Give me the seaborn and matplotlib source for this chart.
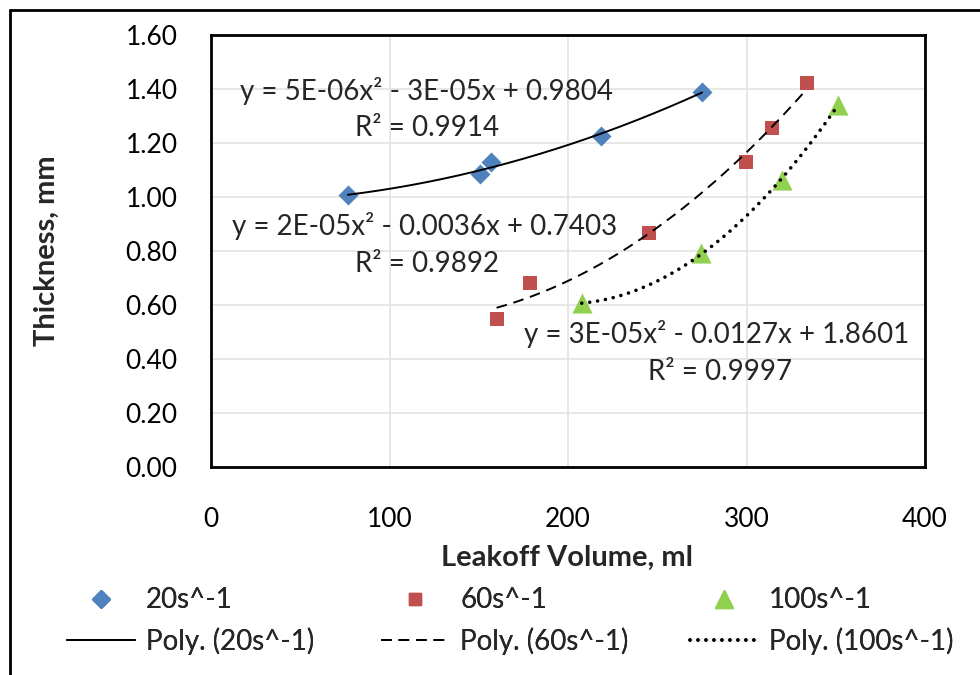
import numpy as np
import pandas as pd
import matplotlib
matplotlib.use("Agg")
import matplotlib.pyplot as plt
from matplotlib.lines import Line2D
import seaborn as sns

# Measured leakoff volume (ml) and filter-cake thickness (mm) per shear rate
vol_20 = [76.7, 150.5, 156.9, 218.6, 275.1]
thk_20 = [1.007, 1.084, 1.131, 1.226, 1.390]
vol_60 = [160.0, 178.7, 245.5, 299.9, 314.5, 333.7]
thk_60 = [0.548, 0.683, 0.868, 1.131, 1.257, 1.423]
vol_100 = [207.7, 274.5, 319.7, 351.1]
thk_100 = [0.606, 0.791, 1.063, 1.341]

series_names = ["20s^-1", "60s^-1", "100s^-1"]
fit_equations = [
    "y = 5E-06x\u00b2 - 3E-05x + 0.9804",
    "y = 2E-05x\u00b2 - 0.0036x + 0.7403",
    "y = 3E-05x\u00b2 - 0.0127x + 1.8601",
]
fit_r2 = ["R\u00b2 = 0.9914", "R\u00b2 = 0.9892", "R\u00b2 = 0.9997"]
x_ticks = [0, 100, 200, 300, 400]
y_ticks = [0.0, 0.2, 0.4, 0.6, 0.8, 1.0, 1.2, 1.4, 1.6]

df = pd.concat([
    pd.DataFrame({"vol": vol_20, "thk": thk_20, "rate": series_names[0]}),
    pd.DataFrame({"vol": vol_60, "thk": thk_60, "rate": series_names[1]}),
    pd.DataFrame({"vol": vol_100, "thk": thk_100, "rate": series_names[2]}),
], ignore_index=True)

colors = {"20s^-1": "#4F81BD", "60s^-1": "#C0504D", "100s^-1": "#92D050"}
markers = {"20s^-1": "D", "60s^-1": "s", "100s^-1": "^"}
msizes = {"20s^-1": 10.2, "60s^-1": 10.5, "100s^-1": 14.5}
line_styles = {
    "20s^-1": dict(linestyle="-", linewidth=1.4),
    "60s^-1": dict(linestyle=(0, (5.5, 3.5)), linewidth=1.4),
    "100s^-1": dict(linestyle=(0, (0.01, 2.2)), linewidth=2.6, dash_capstyle="round"),
}

sns.set_theme(style="white")
plt.rcParams["font.family"] = ["Lato", "DejaVu Sans"]

fig = plt.figure(figsize=(9.8, 6.75), dpi=100)
ax = fig.add_axes([211 / 980, 1 - 467 / 675, 714 / 980, 432 / 675])

# second-order polynomial trendlines fitted over each series' range
for name in series_names:
    sub = df[df["rate"] == name]
    coef = np.polyfit(sub["vol"], sub["thk"], 2)
    xs = np.linspace(sub["vol"].min(), sub["vol"].max(), 200)
    ax.plot(xs, np.polyval(coef, xs), color="black", zorder=3, **line_styles[name])

for name in series_names:
    sub = df[df["rate"] == name]
    sns.scatterplot(data=sub, x="vol", y="thk", color=colors[name], marker=markers[name],
                    s=msizes[name] ** 2, linewidth=0, ax=ax, zorder=2, legend=False)

ax.set_xlim(0, 400)
ax.set_ylim(0, 1.6)
ax.set_xticks(x_ticks)
ax.set_yticks(y_ticks)
ax.set_yticklabels([f"{v:.2f}" for v in y_ticks])
ax.tick_params(axis="both", length=0, labelsize=19, colors="black")
ax.tick_params(axis="x", pad=29)
ax.tick_params(axis="y", pad=24)
ax.grid(True, color="#e3e3e3", linewidth=1.2)
ax.set_axisbelow(True)
for sp in ax.spines.values():
    sp.set_visible(True)
    sp.set_color("black")
    sp.set_linewidth(2)

ax.set_xlabel("Leakoff Volume, ml", fontsize=21, fontweight="bold")
ax.set_ylabel("Thickness, mm", fontsize=21, fontweight="bold")
ax.xaxis.set_label_coords(0.499, -0.18)
ax.yaxis.set_label_coords(-0.212, 0.5)

# fitted-equation annotations (equation line, then R² line)
eq_pos = [((426, 91), (427, 128)), ((425, 226), (427, 264)), ((717, 334), (720, 372))]
for ((ex, ey), (rx, ry)), eq, r2 in zip(eq_pos, fit_equations, fit_r2):
    ax.annotate(eq, xy=(ex / 980, 1 - ey / 675), xycoords="figure fraction",
                ha="center", va="center", fontsize=20)
    ax.annotate(r2, xy=(rx / 980, 1 - ry / 675), xycoords="figure fraction",
                ha="center", va="center", fontsize=20)

# legend: one block per shear rate, marker entry above trendline entry
legend_x = [67, 381, 690]
for name, lx in zip(series_names, legend_x):
    handles = [
        Line2D([], [], linestyle="none", marker=markers[name],
               markersize=msizes[name] * (0.85 if markers[name] != "s" else 0.8),
               color=colors[name]),
        Line2D([], [], color="black", **line_styles[name]),
    ]
    leg = fig.legend(handles, [name, f"Poly. ({name})"], loc="center left",
                     bbox_to_anchor=(lx / 980, 1 - 621 / 675), frameon=False, fontsize=20,
                     handlelength=2.45, handletextpad=0.4, labelspacing=0.5,
                     borderpad=0, borderaxespad=0)
    fig.add_artist(leg)

# outer frame
fig.add_artist(Line2D([10 / 980, 10 / 980], [0, 1 - 10 / 675], color="black", linewidth=2,
                      transform=fig.transFigure))
fig.add_artist(Line2D([10 / 980, 1], [1 - 10 / 675, 1 - 10 / 675], color="black", linewidth=2,
                      transform=fig.transFigure))

fig.savefig("out.png", dpi=100, facecolor="white")
